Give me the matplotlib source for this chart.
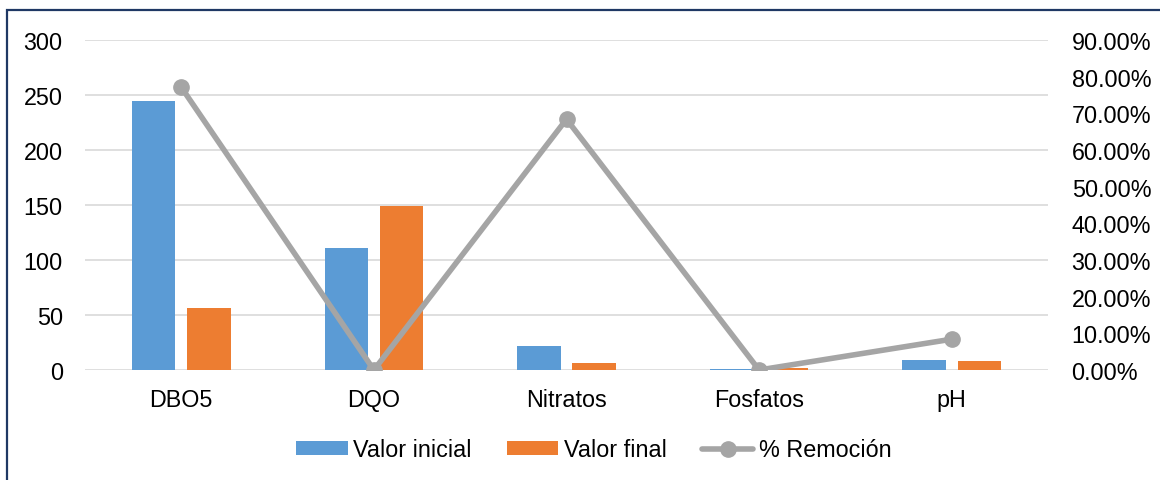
import matplotlib.pyplot as plt
import numpy as np
from matplotlib.patches import Rectangle
from matplotlib.ticker import FuncFormatter

categories = ["DBO5", "DQO", "Nitratos", "Fosfatos", "pH"]
valor_inicial = [245, 111, 21.5, 0.6, 8.9]
valor_final = [56, 149, 6.8, 1.8, 8.1]
remocion = [0.771, 0.0, 0.684, 0.0, 0.084]

plt.rcParams['font.family'] = ['Liberation Sans', 'DejaVu Sans']
FS = 16.8

fig = plt.figure(figsize=(11.6, 4.81), dpi=100)
ax = fig.add_axes([85 / 1160, 110 / 481, 963 / 1160, 330 / 481])
ax2 = ax.twinx()

x = np.arange(len(categories))
w = 0.225
ax.bar(x - 0.143, valor_inicial, w, color="#5B9BD5", label="Valor inicial", zorder=2)
ax.bar(x + 0.143, valor_final, w, color="#ED7D31", label="Valor final", zorder=2)

ax2.plot(x, remocion, color="#A5A5A5", lw=4, marker="o", markersize=11,
         label="% Remoción", zorder=3, solid_capstyle="round")

ax.set_xlim(-0.5, len(categories) - 0.5)
ax.set_ylim(0, 300)
ax.set_yticks(range(0, 301, 50))
ax2.set_ylim(0, 0.9)
ax2.set_yticks(np.arange(0, 0.91, 0.1))
ax2.yaxis.set_major_formatter(FuncFormatter(lambda v, p: f"{v * 100:.2f}%"))

ax.set_xticks(x)
ax.set_xticklabels(categories)
ax.grid(axis="y", color="#D9D9D9", lw=1.2, zorder=0)
ax.set_axisbelow(True)

for a in (ax, ax2):
    for s in a.spines.values():
        s.set_visible(False)
    a.tick_params(length=0, labelsize=FS, colors="#000000")
ax.tick_params(axis="y", pad=16)
ax.tick_params(axis="x", pad=13)
ax2.tick_params(axis="y", pad=17)

h1, l1 = ax.get_legend_handles_labels()
h2, l2 = ax2.get_legend_handles_labels()
fig.legend(h1 + h2, l1 + l2, loc="center", bbox_to_anchor=(594 / 1160, 30 / 481),
           ncol=3, frameon=False, fontsize=FS, handlelength=2.2,
           handleheight=0.56, columnspacing=1.5, handletextpad=0.25)

fig.patches.append(Rectangle((7 / 1160, -0.05), 1.1, 1 - 11 / 481 + 0.05,
                             transform=fig.transFigure, fill=False,
                             edgecolor="#1F3864", lw=1.6))

fig.savefig("out.png", dpi=100)
